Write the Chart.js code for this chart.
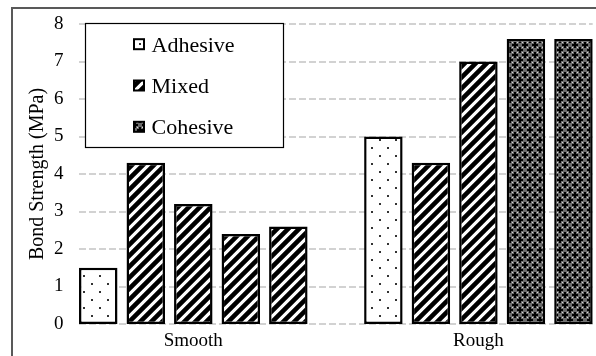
<!DOCTYPE html>
<html>
<head>
<meta charset="utf-8">
<script src="https://cdn.jsdelivr.net/npm/chart.js@4"></script>
<style>
  html, body { margin: 0; padding: 0; background: #fff; overflow: hidden; }
  #wrap { position: relative; width: 596px; height: 356px; overflow: hidden; }
  canvas { display: block; }
</style>
</head>
<body>
<div id="wrap"><canvas id="chart" width="600" height="356"></canvas></div>
<script>
// Eleven bar slots: five specimens per surface, one empty slot between the groups
const slotLabels = ['', '', 'Smooth', '', '', '', '', '', 'Rough', '', ''];
const seriesNames = ['Adhesive', 'Mixed', 'Cohesive'];
const adhesive = [1.5, null, null, null, null, null, 5.0, null, null, null, null];
const mixed    = [null, 4.3, 3.2, 2.4, 2.6, null, null, 4.3, 7.0, null, null];
const cohesive = [null, null, null, null, null, null, null, null, null, 7.6, 7.6];
const yTicks = [0, 1, 2, 3, 4, 5, 6, 7, 8];

const FONT = "'Liberation Serif', 'Times New Roman', serif";

function tile(w, h, paint) {
  const c = document.createElement('canvas');
  c.width = w; c.height = h;
  const g = c.getContext('2d');
  paint(g, w, h);
  return g.createPattern(c, 'repeat');
}

// sparse dots for adhesive failure
const dotFill = tile(16, 16, (g, w, h) => {
  g.fillStyle = '#fff'; g.fillRect(0, 0, w, h);
  g.fillStyle = '#333';
  g.fillRect(3, 3, 2, 2);
  g.fillRect(11, 11, 2, 2);
});

// wide upward diagonal for mixed failure
const stripeFill = tile(11, 11, (g, s) => {
  g.fillStyle = '#fff'; g.fillRect(0, 0, s, s);
  g.strokeStyle = '#000'; g.lineWidth = 4.6; g.lineCap = 'square';
  g.beginPath();
  g.moveTo(-2, s + 2); g.lineTo(s + 2, -2);
  g.moveTo(-2, 2); g.lineTo(2, -2);
  g.moveTo(s - 2, s + 2); g.lineTo(s + 2, s - 2);
  g.stroke();
});

// dark lattice of crosses for cohesive failure
const latticeFill = tile(10, 10, (g, w, h) => {
  g.fillStyle = '#6a6a6a'; g.fillRect(0, 0, w, h);
  g.fillStyle = '#000';
  [[0, 0], [10, 0], [0, 10], [10, 10], [5, 5]].forEach(([cx, cy]) => {
    g.fillRect(cx - 3, cy - 1, 6, 2);
    g.fillRect(cx - 1, cy - 3, 2, 6);
  });
  g.fillStyle = '#d8d8d8';
  [[2, 2], [7, 2], [2, 7], [7, 7]].forEach(([x, y]) => g.fillRect(x, y, 1, 1));
});

const fills = [dotFill, stripeFill, latticeFill];
const seriesData = [adhesive, mixed, cohesive];

// thin frame along the top and left edges
const framePlugin = {
  id: 'frame',
  beforeDraw(chart) {
    const ctx = chart.ctx;
    ctx.save();
    ctx.strokeStyle = '#595959';
    ctx.lineWidth = 2;
    ctx.beginPath();
    ctx.moveTo(12, chart.height);
    ctx.lineTo(12, 8);
    ctx.lineTo(chart.width, 8);
    ctx.stroke();
    ctx.restore();
  }
};

// dashed horizontal grid spanning from the first bar edge to the last bar edge
const dashedGrid = {
  id: 'dashedGrid',
  beforeDatasetsDraw(chart) {
    const { ctx, scales: { x, y } } = chart;
    const slot = x.width / slotLabels.length;
    const bar = slot * 0.81;
    const inset = (slot - bar) / 2;
    ctx.save();
    ctx.strokeStyle = '#d2d2d2';
    ctx.lineWidth = 2;
    ctx.setLineDash([7, 3]);
    y.ticks.forEach(t => {
      const py = Math.round(y.getPixelForValue(t.value));
      ctx.beginPath();
      ctx.moveTo(x.left + inset, py);
      ctx.lineTo(x.right - inset, py);
      ctx.stroke();
    });
    ctx.restore();
  }
};

// boxed legend laid over the upper left of the plot
const boxLegend = {
  id: 'boxLegend',
  afterDatasetsDraw(chart) {
    const ctx = chart.ctx;
    const bx = 85, by = 23, bw = 198, bh = 124;
    ctx.save();
    ctx.fillStyle = '#fff';
    ctx.fillRect(bx, by, bw, bh);
    ctx.strokeStyle = '#000';
    ctx.lineWidth = 1.2;
    ctx.strokeRect(bx + 0.5, by + 0.5, bw, bh);
    ctx.font = '22px ' + FONT;
    ctx.textBaseline = 'alphabetic';
    ctx.textAlign = 'left';
    chart.data.datasets.forEach((ds, i) => {
      const base = 51.7 + i * 41.3;
      const ix = 134, iy = base - 12.5, is = 10;
      ctx.fillStyle = ds.backgroundColor;
      ctx.fillRect(ix, iy, is, is);
      ctx.strokeStyle = '#000';
      ctx.lineWidth = 2;
      ctx.strokeRect(ix, iy, is, is);
      ctx.fillStyle = '#000';
      ctx.fillText(ds.label, 151.5, base);
    });
    ctx.restore();
  }
};

new Chart(document.getElementById('chart'), {
  type: 'bar',
  data: {
    labels: slotLabels,
    datasets: seriesNames.map((name, i) => ({
      label: name,
      data: seriesData[i],
      backgroundColor: fills[i],
      borderColor: '#000',
      borderWidth: 2.5,
      borderSkipped: false,
      grouped: false,
      categoryPercentage: 1,
      barPercentage: 0.81
    }))
  },
  options: {
    responsive: false,
    animation: false,
    layout: { padding: { left: 0, right: 2.8, top: 24, bottom: 0 } },
    plugins: { legend: { display: false }, tooltip: { enabled: false } },
    scales: {
      x: {
        grid: { display: false, drawTicks: false },
        border: { display: false },
        ticks: { autoSkip: false, maxRotation: 0, minRotation: 0, padding: 6, color: '#000', font: { family: FONT, size: 19 } },
        afterFit(s) { s.height = 32; }
      },
      y: {
        min: 0, max: 8,
        grid: { display: false, drawTicks: false },
        border: { display: false },
        afterBuildTicks(s) { s.ticks = yTicks.map(v => ({ value: v })); },
        ticks: { padding: 11, color: '#000', font: { family: FONT, size: 19 } },
        title: { display: true, text: 'Bond Strength (MPa)', color: '#000', font: { family: FONT, size: 20 }, padding: { top: 26, bottom: 0 } },
        afterFit(s) { s.width = 74.5; }
      }
    }
  },
  plugins: [framePlugin, dashedGrid, boxLegend]
});
</script>
</body>
</html>
